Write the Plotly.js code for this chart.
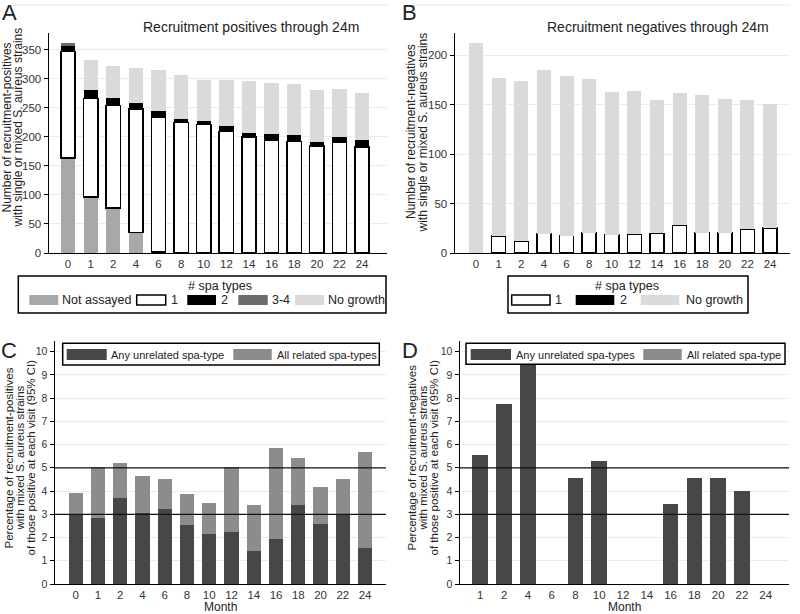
<!DOCTYPE html>
<html>
<head>
<meta charset="utf-8">
<script src="https://cdn.plot.ly/plotly-3.0.1.min.js"></script>
<style>
  body { margin: 0; background: #fff; }
  #myDiv { width: 800px; height: 614px; }
</style>
</head>
<body>
<div id="myDiv"></div>
<script>
// months on the x axis
var months = ['0', '1', '2', '4', '6', '8', '10', '12', '14', '16', '18', '20', '22', '24'];
var monthsD = ['1', '2', '4', '6', '8', '10', '12', '14', '16', '18', '20', '22', '24'];

// A: recruitment positives, counts by # spa types
var posNotAssayed = [163.5, 96, 77.5, 35.5, 2, 0, 0, 0, 0, 0, 0, 0, 0, 0];
var posOne = [183, 170, 176, 212, 232, 225, 221.5, 209, 199.5, 194, 191.5, 184.5, 190.5, 182.5];
var posTwo = [10.5, 14.5, 12.5, 11, 10.5, 6, 6, 10, 7, 10, 11.5, 6.5, 8.5, 11.5];
var posThreeFour = [4, 0, 0, 0, 0, 0, 0, 0, 0, 0, 0, 0, 0, 0];
var posNoGrowth = [0, 51.5, 56.5, 59.5, 70.5, 76, 69.5, 79, 89, 89, 88.5, 89, 83.5, 82];

// B: recruitment negatives
var negOne = [0, 17.2, 11.8, 19.6, 17.5, 20.6, 18.6, 18.9, 19.9, 28, 20.6, 20.6, 24, 25.3];
var negTwo = [0, 0, 0, 0, 0, 0, 0, 0, 0, 0, 0, 0, 0, 0];
var negNoGrowth = [212, 159.8, 162.2, 165.4, 161.5, 155.4, 144.4, 145.1, 134.6, 134, 139.4, 134.9, 130.5, 125.2];

// C: % of positives with mixed strains
var posUnrelated = [3.0, 2.83, 3.69, 3.07, 3.21, 2.54, 2.15, 2.25, 1.43, 1.92, 3.4, 2.58, 2.97, 1.54];
var posRelated = [0.93, 2.19, 1.53, 1.58, 1.29, 1.33, 1.35, 2.77, 1.97, 3.95, 2.02, 1.58, 1.53, 4.13];

// D: % of negatives with mixed strains
var negUnrelated = [5.55, 7.73, 9.5, 0, 4.55, 5.28, 0, 0, 3.44, 4.55, 4.55, 4.02, 0];
var negRelated = [0, 0, 0, 0, 0, 0, 0, 0, 0, 0, 0, 0, 0];

var FONT = 'Arial, "Liberation Sans", sans-serif';
var W = 800, H = 614;

function px(x) { return x / W; }
function py(y) { return 1 - y / H; }

function rect(x0, y0, x1, y1, fill, lw) {
  return {
    type: 'rect', xref: 'paper', yref: 'paper', layer: 'above',
    x0: px(x0), x1: px(x1), y0: py(y1), y1: py(y0),
    fillcolor: fill,
    line: {color: '#000', width: lw || 0}
  };
}

function label(x, y, text, size, anchor, angle) {
  return {
    xref: 'paper', yref: 'paper', x: px(x), y: py(y),
    text: text, showarrow: false,
    xanchor: anchor || 'left', yanchor: 'middle',
    textangle: angle || 0,
    font: {family: FONT, size: size, color: '#222'}
  };
}

// reference lines at 3% and 5%
function hline(ax, val) {
  return {
    type: 'line', xref: 'x' + ax + ' domain', yref: 'y' + ax, layer: 'above',
    x0: 0, x1: 1, y0: val, y1: val,
    line: {color: '#111', width: 1.3}
  };
}

function bar(x, y, ax, color, w, outline) {
  return {
    type: 'bar', x: x, y: y, xaxis: 'x' + ax, yaxis: 'y' + ax,
    width: w,
    marker: {color: color, line: {color: '#000', width: outline ? 1.5 : 0}},
    hoverinfo: 'y'
  };
}

var data = [
  bar(months, posNotAssayed, '', '#a8a8a8', 0.63),
  bar(months, posOne, '', '#ffffff', 0.63, true),
  bar(months, posTwo, '', '#000000', 0.63),
  bar(months, posThreeFour, '', '#6b6b6b', 0.63),
  bar(months, posNoGrowth, '', '#dadada', 0.63),

  bar(months, negOne, '2', '#ffffff', 0.62, true),
  bar(months, negTwo, '2', '#000000', 0.62),
  bar(months, negNoGrowth, '2', '#dadada', 0.62),

  bar(months, posUnrelated, '3', '#474747', 0.645),
  bar(months, posRelated, '3', '#8c8c8c', 0.645),

  bar(monthsD, negUnrelated, '4', '#474747', 0.66),
  bar(monthsD, negRelated, '4', '#8c8c8c', 0.66)
];

function xax(dom, rng, anchor) {
  return {
    domain: dom, range: rng, type: 'category', anchor: anchor,
    showline: true, linecolor: '#000', linewidth: 1.5,
    showgrid: false, ticks: '', zeroline: false,
    tickfont: {family: FONT, size: 11.5, color: '#333'}
  };
}

function yax(dom, rng, dtick, anchor, fs) {
  return {
    domain: dom, range: rng, anchor: anchor, dtick: dtick,
    showline: true, linecolor: '#000', linewidth: 1.5,
    showgrid: true, gridcolor: '#ebebeb', gridwidth: 1,
    ticks: 'outside', ticklen: 4, tickcolor: '#000', zeroline: false,
    tickfont: {family: FONT, size: fs, color: '#333'}
  };
}

var shapes = [
  {type: 'line', xref: 'paper', yref: 'paper', x0: px(14), x1: px(387), y0: py(5), y1: py(5), line: {color: '#e6e6e6', width: 1}},
  {type: 'line', xref: 'paper', yref: 'paper', x0: px(413), x1: px(790), y0: py(5), y1: py(5), line: {color: '#e6e6e6', width: 1}},
  hline('3', 3), hline('3', 5), hline('4', 3), hline('4', 5),

  // legend A
  rect(18.3, 276, 386, 313, 'rgba(0,0,0,0)', 1.5),
  rect(29.3, 295, 58.3, 305, '#a8a8a8'),
  rect(136.7, 295, 165.7, 305, '#ffffff', 1.5),
  rect(187.3, 295, 216, 305, '#000000'),
  rect(238.3, 295, 267.7, 305, '#6b6b6b'),
  rect(295, 295, 324, 305, '#dadada'),

  // legend B
  rect(508, 276, 748, 313, 'rgba(0,0,0,0)', 1.5),
  rect(511.7, 295, 550, 305, '#ffffff', 1.5),
  rect(575.7, 295, 614.3, 305, '#000000'),
  rect(640.7, 295, 679.3, 305, '#dadada'),

  // legend C
  rect(62.7, 343.3, 379.3, 365, '#ffffff', 1.5),
  rect(66.7, 349, 106.7, 360, '#474747'),
  rect(233.3, 349, 271.7, 360, '#8c8c8c'),

  // legend D
  rect(466, 343.3, 785, 364.3, '#ffffff', 1.5),
  rect(470.7, 349, 511, 360, '#474747'),
  rect(643.3, 349, 681.7, 360, '#8c8c8c')
];

var annotations = [
  label(9, 12.5, 'A', 22, 'center'),
  label(410, 12.5, 'B', 22, 'center'),
  label(8.5, 350, 'C', 22, 'center'),
  label(410, 350, 'D', 22, 'center'),

  label(251, 27, 'Recruitment positives through 24m', 14, 'center'),
  label(658, 27, 'Recruitment negatives through 24m', 14, 'center'),

  label(6.5, 128, 'Number of recruitment-positives', 12, 'center', -90),
  label(17.5, 128, 'with single or mixed S. aureus strains', 12, 'center', -90),
  label(411, 132, 'Number of recruitment-negatives', 12, 'center', -90),
  label(422.5, 132, 'with single or mixed S. aureus strains', 12, 'center', -90),

  label(8.5, 458, 'Percentage of recruitment-positives', 11.5, 'center', -90),
  label(19.5, 458, 'with mixed S. aureus strains', 11.5, 'center', -90),
  label(30.5, 458, 'of those positive at each visit (95% CI)', 11.5, 'center', -90),
  label(411.5, 458, 'Percentage of recruitment-negatives', 11.5, 'center', -90),
  label(422.5, 458, 'with mixed S. aureus strains', 11.5, 'center', -90),
  label(433.5, 458, 'of those positive at each visit (95% CI)', 11.5, 'center', -90),

  label(220, 607, 'Month', 12, 'center'),
  label(624, 607, 'Month', 12, 'center'),

  // legend texts
  label(220, 286, '# spa types', 12.5, 'center'),
  label(59.5, 300, 'Not assayed', 12.5),
  label(169, 300, '1', 12.5),
  label(218.5, 300, '2', 12.5),
  label(269.5, 300, '3-4', 12.5),
  label(325.5, 300, 'No growth', 12.5),

  label(627, 286, '# spa types', 12.5, 'center'),
  label(553, 300, '1', 12.5),
  label(618, 300, '2', 12.5),
  label(683.5, 300, 'No growth', 12.5),

  label(108.5, 354.5, 'Any unrelated spa-type', 11),
  label(275, 354.5, 'All related spa-types', 11),
  label(513.5, 354.5, 'Any unrelated spa-types', 11),
  label(685, 354.5, 'All related spa-type', 11)
];

var layout = {
  width: W,
  height: H,
  margin: {l: 0, r: 0, t: 0, b: 0},
  barmode: 'stack',
  showlegend: false,
  paper_bgcolor: '#ffffff',
  plot_bgcolor: '#ffffff',
  font: {family: FONT, size: 12, color: '#333'},
  xaxis: xax([0.06125, 0.48375], [-0.84, 14.1], 'y'),
  yaxis: yax([0.58795, 0.94625], [0, 378.6], 50, 'x', 11.5),
  xaxis2: xax([0.56875, 0.9875], [-0.93, 13.88], 'y2'),
  yaxis2: yax([0.58795, 0.94625], [0, 222.6], 50, 'x2', 11.5),
  xaxis3: xax([0.06875, 0.4825], [-0.93, 13.94], 'y3'),
  yaxis3: yax([0.04886, 0.44511], [0, 10.47], 1, 'x3', 10.5),
  xaxis4: xax([0.575, 0.98625], [-0.854, 12.98], 'y4'),
  yaxis4: yax([0.04886, 0.44511], [0, 10.47], 1, 'x4', 10.5),
  shapes: shapes,
  annotations: annotations
};

Plotly.newPlot('myDiv', data, layout, {displayModeBar: false, staticPlot: true});
</script>
</body>
</html>
